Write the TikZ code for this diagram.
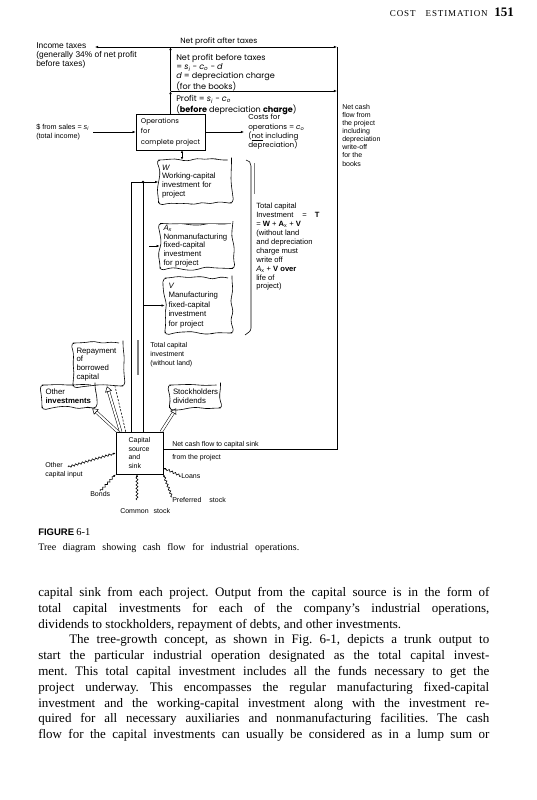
\documentclass[tikz,border=0pt]{standalone}
\usepackage{fontspec}
\setmainfont{Liberation Serif}
\setsansfont{Liberation Sans}
\newfontfamily\figfont{Poppins}
\usetikzlibrary{arrows.meta,positioning,calc,decorations.pathmorphing}

\begin{document}
\frenchspacing
\begin{tikzpicture}[x=1pt, y=-1pt,
    line width=0.6pt,
    every node/.style={inner sep=0pt, align=left, font=\figfont\fontsize{8.1}{9}\selectfont},
    txt/.style={anchor=north west},
    note/.style={anchor=north west, font=\sffamily\fontsize{7}{8.1}\selectfont},
    box/.style={draw, align=left, inner xsep=4pt},
    blob/.style={draw, decorate, decoration={random steps, segment length=8pt, amplitude=2pt},
        rounded corners=4pt, align=left, inner xsep=3.5pt, font=\sffamily\fontsize{7.8}{8.8}\selectfont},
    flow/.style={-{Latex[length=3.2pt, width=2.6pt]}},
    hollow/.style={double, double distance=2pt, line width=0.5pt, -{Triangle[open, length=5.5pt, width=7pt]}},
    wavy/.style={decorate, decoration={snake, amplitude=1pt, segment length=3.5pt, post length=2.5pt},
        -{Latex[length=2.6pt, width=2.2pt]}},
    body/.style={anchor=north west, font=\rmfamily\fontsize{13}{15.8}\selectfont}
]
\pgfmathsetseed{5}
\fill[white] (0,0) rectangle (536,800);
\useasboundingbox (0,0) rectangle (536,800);

% running head
\node[anchor=base east, font=\rmfamily\fontsize{9}{10}\selectfont] (runhead) at (488,17)
    {\addfontfeature{LetterSpace=10}COST\hspace{10pt}ESTIMATION};
\node[anchor=base west, font=\rmfamily\bfseries\fontsize{13}{14}\selectfont] (page) at (494,17) {151};

% profit and taxes
\node[txt, font=\sffamily\fontsize{8.4}{9}\selectfont] (taxes) at (36,42)
    {Income taxes\\(generally 34\% of net profit\\before taxes)};
\node[anchor=base west, font=\figfont\fontsize{7.6}{9}\selectfont] (after) at (180,44) {Net profit after taxes};
\node[txt] (before) at (176,54) {Net profit before taxes\\
    = \textit{s}\textsubscript{\textit{i}} − \textit{c}\textsubscript{\textit{o}} − \textit{d}\\
    \textit{d} = depreciation charge\\(for the books)};
\node[txt] (profit) at (176,95.5) {Profit = \textit{s}\textsubscript{\textit{i}} − \textit{c}\textsubscript{\textit{o}}\\
    (\textbf{before} depreciation \textbf{charge})};
\node[box, minimum width=69pt, minimum height=36pt, font=\figfont\fontsize{6.9}{10.5}\selectfont] (ops)
    at (170.5,132) {Operations\\for\\complete project};
\node[txt, font=\sffamily\fontsize{7.2}{8.5}\selectfont] (sales) at (36,124)
    {\$ from sales = \textit{s}\textsubscript{\textit{i}}\\(total income)};
\node[txt, font=\figfont\fontsize{7.2}{9.3}\selectfont] (costs) at (248,114)
    {Costs for\\operations = \textit{c}\textsubscript{\textit{o}}\\(\underline{not} including\\depreciation)};
\node[note] (netcash) at (342,104)
    {Net cash\\flow from\\the project\\including\\depreciation\\write-off\\for the\\books};

% investments
\node[blob, text width=66pt, minimum height=43pt] (wcap) at (195,181.5)
    {\textit{W}\\Working-capital\\investment for\\project};
\node[blob, text width=66pt, minimum height=45pt] (nonman) at (196.5,246)
    {\textit{A}\textsubscript{\textit{x}}\\Nonmanufacturing\\fixed-capital\\investment\\for project};
\node[blob, text width=60pt, minimum height=55pt, font=\sffamily\fontsize{7.8}{9.5}\selectfont] (manuf)
    at (198.5,305.5) {\textit{V}\\Manufacturing\\fixed-capital\\investment\\for project};
\node[note, font=\sffamily\fontsize{7.6}{8.9}\selectfont] (total) at (256,203)
    {Total capital\\Investment\hspace{9pt}=\hspace{8pt}\textbf{T}\\
    = \textbf{W} + \textbf{A}\textsubscript{x} + \textbf{V}\\(without land\\and depreciation\\
    charge must\\write off\\\textit{A}\textsubscript{x} + \textbf{V over}\\life of\\project)};
\node[note, font=\sffamily\fontsize{7}{8.9}\selectfont] (totalinv) at (150,342)
    {Total capital\\investment\\(without land)};

% outputs of the capital sink
\node[blob, text width=43pt, minimum height=43pt] (repay) at (98,364.5)
    {Repayment\\of\\borrowed\\capital};
\node[blob, text width=46pt, minimum height=23pt] (othinv) at (68.5,396.5)
    {Other\\\textbf{investments}};
\node[blob, text width=44pt, minimum height=23pt] (stock) at (195,396.5)
    {Stockholders\\dividends};
\node[box, minimum width=47pt, minimum height=42pt, font=\sffamily\fontsize{7}{8.9}\selectfont] (capital)
    at (139.5,453) {Capital\\source\\and\\sink};
\node[anchor=base west, font=\sffamily\fontsize{7}{8}\selectfont] (sinklbl) at (172,446)
    {Net cash flow to capital sink};
\node[anchor=base west, font=\sffamily\fontsize{7}{8}\selectfont] (fromproj) at (172,459)
    {from the project};

% inputs
\node[note, font=\sffamily\fontsize{7}{9}\selectfont] (othcap) at (45,462) {Other\\capital input};
\node[note, anchor=west] (loans) at (181,476) {Loans};
\node[note, anchor=west] (bonds) at (90,494) {Bonds};
\node[note, anchor=west] (pref) at (172,500) {Preferred\hspace{8pt}stock};
\node[note, anchor=west] (common) at (120,511) {Common\hspace{5pt}stock};

% caption and text
\node[anchor=base west] (figno) at (38,535.5)
    {{\sffamily\bfseries\fontsize{9.5}{10}\selectfont FIGURE} {\rmfamily\fontsize{10.5}{12}\selectfont 6-1}};
\node[anchor=base west, font=\rmfamily\fontsize{10}{12}\selectfont] (caption) at (38,550)
    {\makebox[261pt][s]{Tree diagram showing cash flow for industrial operations.}};
\node[body] (para) at (38,587) {%
    \makebox[451pt][s]{capital sink from each project. Output from the capital source is in the form of}\\
    \makebox[451pt][s]{total capital investments for each of the company’s industrial operations,}\\
    dividends to stockholders, repayment of debts, and other investments.\\
    \hspace*{31pt}\makebox[420pt][s]{The tree-growth concept, as shown in Fig. 6-1, depicts a trunk output to}\\
    \makebox[451pt][s]{start the particular industrial operation designated as the total capital invest-}\\
    \makebox[451pt][s]{ment. This total capital investment includes all the funds necessary to get the}\\
    \makebox[451pt][s]{project underway. This encompasses the regular manufacturing fixed-capital}\\
    \makebox[451pt][s]{investment and the working-capital investment along with the investment re-}\\
    \makebox[451pt][s]{quired for all necessary auxiliaries and nonmanufacturing facilities. The cash}\\
    \makebox[451pt][s]{flow for the capital investments can usually be considered as in a lump sum or}};

% cash flow lines
\coordinate (taxend) at (95,47);
\coordinate (ncftop) at (337,47);
\coordinate (bookline) at (337,91);
\coordinate (ncfbot) at (337,449);
\coordinate (split) at (ops.north |- taxend);
\draw[flow] (ops.north) -- (ops.north |- bookline);
\draw[flow] (ops.north |- bookline) -- (split);
\draw[flow] (split) -- (taxend);
\draw[flow] (split) -- (ncftop);
\draw[flow] (ops.north |- bookline) -- (bookline);
\draw (ncftop) -- (ncfbot) -- (capital.east |- ncfbot);
\draw[flow, shorten <=4pt] (sales.east |- ops.west) -- (ops.west);
\draw[flow, shorten >=4pt] (ops.east) -- (ops.east -| costs.west);
\draw[{Latex[length=2.6pt, width=2.4pt]}-{Latex[length=2.6pt, width=2.4pt]}]
    ([xshift=11.5pt]ops.south) -- ([xshift=11.5pt]ops.south |- wcap.north);

% trunk
\coordinate (trunkl) at (131,182);
\coordinate (trunkr) at (143,182);
\draw[line width=0.9pt] (trunkl) -- (trunkl |- capital.north);
\draw (trunkr) -- (trunkr |- capital.north);
\draw[flow] (trunkl) -- (trunkl -| wcap.west);
\fill (trunkr) circle (1.3pt);
\draw[flow] ([xshift=6pt]trunkr |- nonman.west) -- (nonman.west);
\draw[flow] (trunkr |- manuf.west) -- (manuf.west);
\draw[gray, line width=1.2pt] (138,340) -- (138,375);
\draw[gray, line width=1pt] ([xshift=12pt]nonman.north west) -- ([xshift=-2pt]nonman.north east);

% bracket
\draw (246,160) to[out=0, in=90] (251,166) -- (251,328) to[out=-90, in=40] (245,335);
\draw[gray, line width=1.1pt] (254.5,163) -- (254.5,194);

% outputs
\draw[hollow] ([xshift=2pt]capital.north west) -- ([xshift=-3pt]othinv.south east);
\draw[hollow] ([xshift=5pt]capital.north west) -- ([xshift=9pt]repay.south);
\draw[dash pattern=on 2pt off 1.5pt] ([xshift=10pt]capital.north west) -- ([xshift=17pt]repay.south);
\draw[hollow] ([xshift=-2pt]capital.north east) -- ([xshift=7pt]stock.south west);

% inputs
\coordinate (incap) at (68,467);
\coordinate (incommon) at (137,500);
\draw[wavy] (incap) -- (capital.west);
\draw[wavy] (bonds.north) -- (capital.south west);
\draw[wavy] (incommon) -- ([xshift=-2.5pt]capital.south);
\draw[wavy] (pref.north west) -- (capital.south east);
\draw[wavy] (loans.west) -- ($(capital.south east)!0.15!(capital.north east)$);
\end{tikzpicture}
\end{document}
